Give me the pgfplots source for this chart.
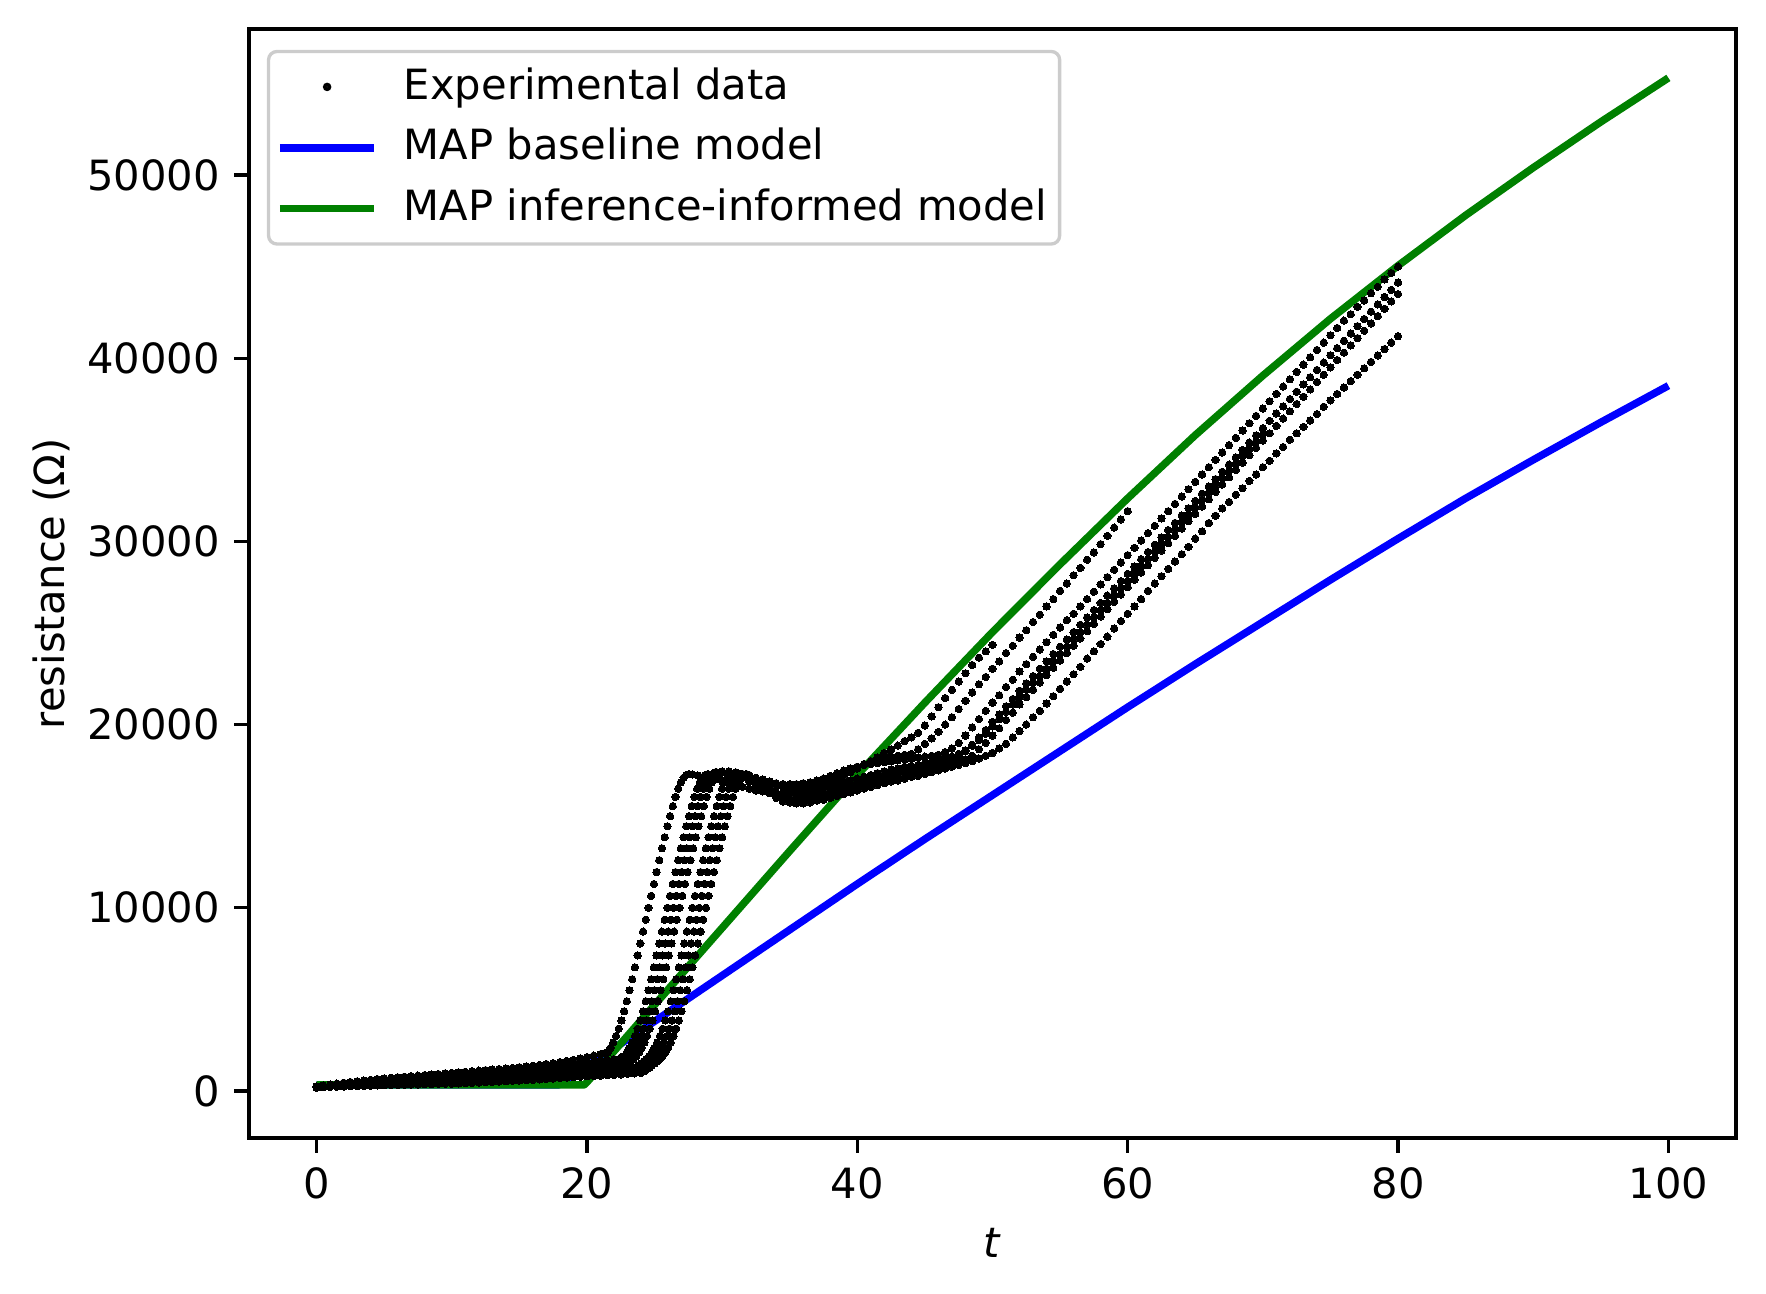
\documentclass[border=0pt]{standalone}
\usepackage{fontspec}
\setmainfont{DejaVu Sans}
\usepackage{pgfplots}
\pgfplotsset{compat=1.18}
\definecolor{mplblue}{rgb}{0,0,1}
\definecolor{mplgreen}{rgb}{0,0.5,0}
\pgfplotsset{expdata/.style={only marks, mark=*, mark size=0.88pt, black, mark options={line width=0pt}, forget plot}}
\begin{document}
\fontsize{10}{12}\selectfont
\begin{tikzpicture}
\begin{axis}[
  scale only axis, width=356.88pt, height=266.16pt,
  xmin=-5, xmax=105, ymin=-2566, ymax=57970,
  xtick={0,20,40,60,80,100}, ytick={0,10000,20000,30000,40000,50000},
  scaled y ticks=false,
  /pgf/number format/assume math mode=true,
  /pgf/number format/1000 sep={},
  tick align=outside, tick pos=left, major tick length=3.5pt,
  every tick/.style={black, line width=0.8pt},
  axis line style={line width=0.8pt},
  tick label style={font=\fontsize{10}{12}\selectfont},
  xlabel={\textit{t}}, ylabel={resistance (Ω)},
  every axis x label/.style={at={(axis description cs:0.5,0)}, anchor=base, yshift=-28.8pt, font=\fontsize{10}{12}\selectfont},
  every axis y label/.style={at={(axis description cs:-0.1331,0.5)}, rotate=90, anchor=center, font=\fontsize{10}{12}\selectfont},
  legend cell align=left,
  legend style={at={(0,1)}, anchor=north west, xshift=4.3pt, yshift=-5pt, draw=black!20, line width=0.8pt, rounded corners=2pt, fill=white, fill opacity=0.8, text opacity=1, font=\fontsize{10}{12}\selectfont, inner xsep=1.8pt, inner ysep=3.3pt, row sep=4.2pt, column sep=6.2pt, nodes={inner sep=0pt, text height=8.1pt, text depth=2.3pt}},
  legend image code/.code={\draw[#1, line width=1.8pt] (0pt,0pt) -- (22.7pt,0pt);},
]
\addlegendimage{black, legend image code/.code={\fill[black] (11.35pt,0pt) circle (0.6pt);}}
\addlegendentry{Experimental data}
% curve A
\addplot[expdata] coordinates {(0,250)(0.5,300)(1,350)(1.5,400)(2,450)(2.5,490)(3,530)(3.5,570)(4,610)(4.5,650)(5,690)(5.5,720)(6,750)(6.5,780)(7,810)(7.5,840)(8,870)(8.5,900)(9,930)(9.5,960)(10,990)(10.5,1020)(11,1050)(11.5,1080)(12,1110)(12.5,1140)(13,1170)(13.5,1200)(14,1230)(14.5,1260)(15,1300)(15.5,1340)(16,1380)(16.5,1420)(17,1470)(17.5,1520)(18,1580)(18.5,1640)(19,1700)(19.5,1770)(20,1850)(20.5,1930)(21,2010)(21.3,2060)(21.55,2100)(21.75,2350)(21.95,2650)(22.15,3000)(22.35,3400)(22.55,3850)(22.75,4350)(22.95,4900)(23.15,5500)(23.35,6100)(23.55,6750)(23.75,7400)(23.95,8050)(24.15,8700)(24.35,9350)(24.55,10000)(24.75,10650)(24.95,11300)(25.15,11950)(25.35,12600)(25.55,13250)(25.75,13850)(25.95,14450)(26.15,15000)(26.35,15550)(26.55,16050)(26.75,16500)(26.95,16850)(27.15,17100)(27.35,17250)(27.55,17300)(27.8,17280)(28.2,17220)(28.6,17150)(29,17100)(29.5,17000)(30,16900)(30.5,16800)(31,16700)(31.5,16600)(32,16500)(32.5,16400)(33,16350)(33.5,16300)(34,16300)(34.5,16300)(35,16350)(35.5,16400)(36,16450)(36.5,16550)(37,16650)(37.5,16750)(38,16900)(38.5,17050)(39,17200)(39.5,17400)(40,17600)(40.5,17800)(41,18000)(41.5,18200)(42,18450)(42.5,18650)(43,18850)(43.5,19100)(44,19300)(44.5,19550)(45,19950)(45.5,20450)(46,20950)(46.5,21450)(47,21900)(47.5,22350)(48,22800)(48.5,23250)(49,23650)(49.5,24000)(50,24350)};
% curve B
\addplot[expdata] coordinates {(0,230)(0.5,270)(1,310)(1.5,350)(2,390)(2.5,420)(3,450)(3.5,480)(4,510)(4.5,540)(5,570)(5.5,600)(6,630)(6.5,660)(7,690)(7.5,720)(8,750)(8.5,780)(9,800)(9.5,830)(10,860)(10.5,880)(11,910)(11.5,940)(12,960)(12.5,990)(13,1020)(13.5,1050)(14,1080)(14.5,1110)(15,1140)(15.5,1170)(16,1210)(16.5,1250)(17,1290)(17.5,1330)(18,1370)(18.5,1410)(19,1450)(19.5,1500)(20,1550)(20.5,1590)(21,1630)(21.5,1680)(22,1730)(22.5,1820)(22.75,1900)(22.95,2100)(23.15,2350)(23.35,2650)(23.55,3000)(23.75,3400)(23.95,3850)(24.15,4350)(24.35,4900)(24.55,5500)(24.75,6100)(24.95,6750)(25.15,7400)(25.35,8050)(25.55,8700)(25.75,9350)(25.95,10000)(26.15,10650)(26.35,11300)(26.55,11950)(26.75,12600)(26.95,13250)(27.15,13850)(27.35,14450)(27.55,15000)(27.75,15550)(27.95,16050)(28.15,16500)(28.35,16850)(28.55,17100)(28.75,17250)(28.95,17300)(29.5,17400)(30,17400)(30.5,17350)(31,17250)(31.5,17150)(32,17000)(32.5,16900)(33,16800)(33.5,16700)(34,16650)(34.5,16600)(35,16600)(35.5,16650)(36,16700)(36.5,16750)(37,16850)(37.5,16950)(38,17100)(38.5,17250)(39,17400)(39.5,17550)(40,17700)(40.5,17850)(41,18000)(41.5,18100)(42,18200)(42.5,18250)(43,18300)(43.5,18350)(44,18400)(44.5,18650)(45,18950)(45.5,19250)(46,19600)(46.5,20000)(47,20400)(47.5,20850)(48,21300)(48.5,21750)(49,22200)(49.5,22600)(50,23050)(50.5,23450)(51,23900)(51.5,24300)(52,24750)(52.5,25150)(53,25600)(53.5,26000)(54,26450)(54.5,26850)(55,27300)(55.5,27700)(56,28150)(56.5,28550)(57,29000)(57.5,29400)(58,29850)(58.5,30300)(59,30750)(59.5,31200)(60,31650)};
% curve D
\addplot[expdata] coordinates {(0,220)(0.5,260)(1,300)(1.5,330)(2,360)(2.5,390)(3,420)(3.5,450)(4,480)(4.5,510)(5,540)(5.5,560)(6,590)(6.5,620)(7,640)(7.5,670)(8,700)(8.5,720)(9,750)(9.5,770)(10,800)(10.5,820)(11,850)(11.5,870)(12,900)(12.5,920)(13,950)(13.5,970)(14,1000)(14.5,1020)(15,1050)(15.5,1080)(16,1110)(16.5,1140)(17,1170)(17.5,1200)(18,1230)(18.5,1260)(19,1290)(19.5,1320)(20,1350)(20.5,1390)(21,1430)(21.5,1480)(22,1530)(22.5,1600)(23,1750)(23.2,1900)(23.4,2100)(23.6,2350)(23.8,2650)(24,3000)(24.2,3400)(24.4,3850)(24.6,4350)(24.8,4900)(25,5500)(25.2,6100)(25.4,6750)(25.6,7400)(25.8,8050)(26,8700)(26.2,9350)(26.4,10000)(26.6,10650)(26.8,11300)(27,11950)(27.2,12600)(27.4,13250)(27.6,13850)(27.8,14450)(28,15000)(28.2,15550)(28.4,16050)(28.6,16500)(28.8,16850)(29,17100)(29.2,17250)(29.4,17350)(29.6,17400)(30,17450)(30.5,17450)(31,17400)(31.5,17300)(32,17200)(32.5,17100)(33,17000)(33.5,16900)(34,16800)(34.5,16750)(35,16750)(35.5,16750)(36,16800)(36.5,16850)(37,16950)(37.5,17050)(38,17200)(38.5,17350)(39,17500)(39.5,17600)(40,17700)(40.5,17800)(41,17850)(41.5,17900)(42,17950)(42.5,18000)(43,18050)(43.5,18100)(44,18150)(44.5,18200)(45,18250)(45.5,18300)(46,18350)(46.5,18500)(47,18700)(47.5,19000)(48,19400)(48.5,19850)(49,20300)(49.5,20750)(50,21200)(50.5,21600)(51,22050)(51.5,22450)(52,22900)(52.5,23300)(53,23700)(53.5,24100)(54,24500)(54.5,24900)(55,25300)(55.5,25700)(56,26050)(56.5,26450)(57,26850)(57.5,27250)(58,27650)(58.5,28050)(59,28450)(59.5,28850)(60,29250)(60.5,29650)(61,30050)(61.5,30450)(62,30850)(62.5,31250)(63,31650)(63.5,32050)(64,32450)(64.5,32850)(65,33250)(65.5,33650)(66,34050)(66.5,34450)(67,34850)(67.5,35250)(68,35650)(68.5,36050)(69,36450)(69.5,36850)(70,37250)(70.5,37650)(71,38050)(71.5,38450)(72,38850)(72.5,39250)(73,39650)(73.5,40050)(74,40450)(74.5,40850)(75,41250)(75.5,41650)(76,42050)(76.5,42400)(77,42800)(77.5,43150)(78,43550)(78.5,43900)(79,44300)(79.5,44650)(80,45000)};
% curve C
\addplot[expdata] coordinates {(0,210)(0.5,240)(1,270)(1.5,300)(2,330)(2.5,355)(3,380)(3.5,400)(4,420)(4.5,440)(5,460)(5.5,480)(6,500)(6.5,520)(7,540)(7.5,560)(8,580)(8.5,600)(9,620)(9.5,640)(10,660)(10.5,685)(11,710)(11.5,735)(12,760)(12.5,785)(13,810)(13.5,835)(14,860)(14.5,885)(15,910)(15.5,940)(16,970)(16.5,1000)(17,1030)(17.5,1060)(18,1090)(18.5,1120)(19,1150)(19.5,1170)(20,1200)(20.5,1230)(21,1260)(21.5,1300)(22,1340)(22.5,1390)(23.05,1500)(23.25,1620)(23.45,1750)(23.65,1900)(23.85,2100)(24.05,2350)(24.25,2650)(24.45,3000)(24.65,3400)(24.85,3850)(25.05,4350)(25.25,4900)(25.45,5500)(25.65,6100)(25.85,6750)(26.05,7400)(26.25,8050)(26.45,8700)(26.65,9350)(26.85,10000)(27.05,10650)(27.25,11300)(27.45,11950)(27.65,12600)(27.85,13250)(28.05,13850)(28.25,14450)(28.45,15000)(28.65,15550)(28.85,16050)(29.05,16500)(29.25,16850)(29.45,17100)(29.65,17250)(29.85,17300)(30.5,17300)(31,17250)(31.5,17100)(32,16900)(32.5,16700)(33,16500)(33.5,16350)(34,16250)(34.5,16200)(35,16150)(35.5,16150)(36,16200)(36.5,16250)(37,16350)(37.5,16450)(38,16550)(38.5,16700)(39,16850)(39.5,16950)(40,17050)(40.5,17150)(41,17250)(41.5,17350)(42,17450)(42.5,17550)(43,17600)(43.5,17700)(44,17750)(44.5,17800)(45,17900)(45.5,17950)(46,18050)(46.5,18150)(47,18250)(47.5,18400)(48,18600)(48.5,18850)(49,19150)(49.5,19500)(50,19900)(50.5,20300)(51,20700)(51.5,21100)(52,21500)(52.5,21900)(53,22300)(53.5,22650)(54,23050)(54.5,23450)(55,23850)(55.5,24250)(56,24650)(56.5,25050)(57,25450)(57.5,25850)(58,26250)(58.5,26650)(59,27050)(59.5,27450)(60,27850)(60.5,28250)(61,28650)(61.5,29050)(62,29450)(62.5,29850)(63,30250)(63.5,30650)(64,31050)(64.5,31450)(65,31850)(65.5,32250)(66,32650)(66.5,33050)(67,33450)(67.5,33850)(68,34250)(68.5,34650)(69,35050)(69.5,35450)(70,35850)};
% curve E
\addplot[expdata] coordinates {(0,200)(0.5,230)(1,260)(1.5,285)(2,310)(2.5,330)(3,350)(3.5,370)(4,390)(4.5,405)(5,420)(5.5,435)(6,450)(6.5,465)(7,480)(7.5,495)(8,510)(8.5,525)(9,540)(9.5,555)(10,570)(10.5,590)(11,610)(11.5,630)(12,650)(12.5,670)(13,690)(13.5,710)(14,730)(14.5,750)(15,770)(15.5,795)(16,820)(16.5,845)(17,870)(17.5,895)(18,920)(18.5,950)(19,980)(19.5,1010)(20,1050)(20.5,1080)(21,1110)(21.5,1140)(22,1170)(22.5,1200)(23,1230)(23.4,1290)(23.8,1400)(24,1500)(24.2,1620)(24.4,1750)(24.6,1900)(24.8,2100)(25,2350)(25.2,2650)(25.4,3000)(25.6,3400)(25.8,3850)(26,4350)(26.2,4900)(26.4,5500)(26.6,6100)(26.8,6750)(27,7400)(27.2,8050)(27.4,8700)(27.6,9350)(27.8,10000)(28,10650)(28.2,11300)(28.4,11950)(28.6,12600)(28.8,13250)(29,13850)(29.2,14450)(29.4,15000)(29.6,15550)(29.8,16050)(30,16500)(30.2,16850)(30.4,17100)(30.6,17250)(30.8,17300)(31,17300)(31.5,17200)(32,17000)(32.5,16750)(33,16500)(33.5,16250)(34,16050)(34.5,15950)(35,15900)(35.5,15900)(36,15950)(36.5,16000)(37,16100)(37.5,16200)(38,16300)(38.5,16450)(39,16600)(39.5,16700)(40,16800)(40.5,16900)(41,17000)(41.5,17100)(42,17150)(42.5,17250)(43,17350)(43.5,17400)(44,17500)(44.5,17550)(45,17650)(45.5,17750)(46,17850)(46.5,17950)(47,18100)(47.5,18300)(48,18550)(48.5,18900)(49,19300)(49.5,19700)(50,20150)(50.5,20550)(51,21000)(51.5,21400)(52,21850)(52.5,22250)(53,22650)(53.5,23050)(54,23450)(54.5,23850)(55,24250)(55.5,24650)(56,25050)(56.5,25450)(57,25850)(57.5,26250)(58,26640)(58.5,27040)(59,27440)(59.5,27830)(60,28230)(60.5,28630)(61,29030)(61.5,29420)(62,29820)(62.5,30220)(63,30620)(63.5,31010)(64,31410)(64.5,31810)(65,32210)(65.5,32600)(66,33000)(66.5,33400)(67,33800)(67.5,34190)(68,34590)(68.5,34990)(69,35390)(69.5,35780)(70,36180)(70.5,36580)(71,36980)(71.5,37370)(72,37770)(72.5,38170)(73,38570)(73.5,38960)(74,39360)(74.5,39760)(75,40160)(75.5,40550)(76,40950)(76.5,41350)(77,41750)(77.5,42140)(78,42540)(78.5,42940)(79,43340)(79.5,43730)(80,44130)};
% curve F
\addplot[expdata] coordinates {(0,190)(0.5,215)(1,240)(1.5,260)(2,280)(2.5,295)(3,310)(3.5,325)(4,340)(4.5,355)(5,370)(5.5,385)(6,400)(6.5,415)(7,425)(7.5,440)(8,450)(8.5,460)(9,470)(9.5,480)(10,490)(10.5,505)(11,520)(11.5,535)(12,550)(12.5,565)(13,580)(13.5,600)(14,620)(14.5,640)(15,660)(15.5,680)(16,700)(16.5,720)(17,745)(17.5,770)(18,795)(18.5,820)(19,845)(19.5,870)(20,900)(20.5,920)(21,940)(21.5,960)(22,990)(22.5,1020)(23,1050)(23.5,1090)(23.7,1200)(24.1,1330)(24.3,1400)(24.5,1500)(24.7,1620)(24.9,1750)(25.1,1900)(25.3,2100)(25.5,2350)(25.7,2650)(25.9,3000)(26.1,3400)(26.3,3850)(26.5,4350)(26.7,4900)(26.9,5500)(27.1,6100)(27.3,6750)(27.5,7400)(27.7,8050)(27.9,8700)(28.1,9350)(28.3,10000)(28.5,10650)(28.7,11300)(28.9,11950)(29.1,12600)(29.3,13250)(29.5,13850)(29.7,14450)(29.9,15000)(30.1,15550)(30.3,16050)(30.5,16500)(30.7,16850)(30.9,17100)(31.1,17250)(31.3,17300)(31.5,17300)(32,17150)(32.5,16900)(33,16650)(33.5,16350)(34,16100)(34.5,15950)(35,15850)(35.5,15800)(36,15800)(36.5,15850)(37,15950)(37.5,16050)(38,16150)(38.5,16250)(39,16400)(39.5,16500)(40,16600)(40.5,16700)(41,16800)(41.5,16900)(42,17000)(42.5,17100)(43,17150)(43.5,17250)(44,17300)(44.5,17400)(45,17450)(45.5,17550)(46,17650)(46.5,17750)(47,17850)(47.5,17950)(48,18100)(48.5,18300)(49,18650)(49.5,19000)(50,19400)(50.5,19800)(51,20250)(51.5,20650)(52,21100)(52.5,21500)(53,21900)(53.5,22300)(54,22700)(54.5,23100)(55,23500)(55.5,23900)(56,24300)(56.5,24700)(57,25100)(57.5,25500)(58,25900)(58.5,26300)(59,26700)(59.5,27100)(60,27500)(60.5,27900)(61,28300)(61.5,28700)(62,29100)(62.5,29500)(63,29900)(63.5,30300)(64,30700)(64.5,31100)(65,31500)(65.5,31900)(66,32300)(66.5,32700)(67,33100)(67.5,33500)(68,33900)(68.5,34300)(69,34700)(69.5,35100)(70,35500)(70.5,35900)(71,36300)(71.5,36700)(72,37100)(72.5,37500)(73,37900)(73.5,38300)(74,38700)(74.5,39100)(75,39500)(75.5,39900)(76,40300)(76.5,40700)(77,41100)(77.5,41500)(78,41900)(78.5,42300)(79,42700)(79.5,43100)(80,43500)};
% curve G
\addplot[expdata] coordinates {(0,180)(0.5,200)(1,215)(1.5,230)(2,245)(2.5,255)(3,265)(3.5,275)(4,290)(4.5,300)(5,310)(5.5,320)(6,330)(6.5,340)(7,350)(7.5,360)(8,370)(8.5,380)(9,390)(9.5,395)(10,400)(10.5,415)(11,430)(11.5,445)(12,460)(12.5,475)(13,490)(13.5,510)(14,530)(14.5,550)(15,570)(15.5,590)(16,610)(16.5,630)(17,655)(17.5,680)(18,705)(18.5,730)(19,755)(19.5,775)(20,800)(20.5,820)(21,840)(21.5,860)(22,880)(22.5,900)(23,930)(23.5,960)(24,990)(24.3,1100)(24.6,1250)(24.8,1380)(25,1500)(25.2,1620)(25.4,1750)(25.6,1900)(25.8,2100)(26,2350)(26.2,2650)(26.4,3000)(26.6,3400)(26.8,3850)(27,4350)(27.2,4900)(27.4,5500)(27.6,6100)(27.8,6750)(28,7400)(28.2,8050)(28.4,8700)(28.6,9350)(28.8,10000)(29,10650)(29.2,11300)(29.4,11950)(29.6,12600)(29.8,13250)(30,13850)(30.2,14450)(30.4,15000)(30.6,15550)(30.8,16050)(31,16500)(31.2,16850)(31.4,17100)(31.6,17250)(31.8,17300)(32,17250)(32.5,17050)(33,16750)(33.5,16400)(34,16000)(34.5,15800)(35,15750)(35.5,15700)(36,15700)(36.5,15750)(37,15850)(37.5,15900)(38,16000)(38.5,16100)(39,16200)(39.5,16300)(40,16400)(40.5,16500)(41,16600)(41.5,16700)(42,16800)(42.5,16900)(43,16950)(43.5,17050)(44,17150)(44.5,17200)(45,17300)(45.5,17400)(46,17500)(46.5,17600)(47,17700)(47.5,17800)(48,17900)(48.5,18000)(49,18150)(49.5,18300)(50,18450)(50.5,18700)(51,18950)(51.5,19300)(52,19650)(52.5,20000)(53,20400)(53.5,20750)(54,21150)(54.5,21550)(55,21950)(55.5,22350)(56,22750)(56.5,23150)(57,23600)(57.5,24000)(58,24400)(58.5,24800)(59,25250)(59.5,25650)(60,26050)(60.5,26450)(61,26850)(61.5,27300)(62,27700)(62.5,28100)(63,28500)(63.5,28900)(64,29300)(64.5,29700)(65,30150)(65.5,30550)(66,31000)(66.5,31400)(67,31800)(67.5,32150)(68,32550)(68.5,32900)(69,33300)(69.5,33650)(70,34050)(70.5,34400)(71,34800)(71.5,35150)(72,35550)(72.5,35900)(73,36250)(73.5,36600)(74,36950)(74.5,37350)(75,37700)(75.5,38050)(76,38400)(76.5,38750)(77,39100)(77.5,39450)(78,39800)(78.5,40150)(79,40500)(79.5,40850)(80,41200)};
% MAP baseline model
\addplot[mplblue, line width=1.8pt, line join=round] coordinates {(0,330)(17.9,330)(20,1350)(25,3800)(30,6300)(35,8800)(40,11300)(45,13750)(50,16150)(55,18550)(60,20950)(65,23300)(70,25600)(75,27900)(80,30150)(85,32350)(90,34450)(95,36500)(100,38500)};
\addlegendentry{MAP baseline model}
% MAP inference-informed model
\addplot[mplgreen, line width=1.8pt, line join=round] coordinates {(0,330)(19.8,330)(20,480)(25,4700)(30,8900)(35,13100)(40,17250)(45,21200)(50,25050)(55,28750)(60,32350)(65,35800)(70,39050)(75,42150)(80,45050)(85,47800)(90,50400)(95,52900)(100,55300)};
\addlegendentry{MAP inference-informed model\rule{1.2pt}{0pt}}
\end{axis}
\pgfresetboundingbox
\path[use as bounding box] (-59.76pt,-37.44pt) rectangle (364.08pt,273.12pt);
\end{tikzpicture}
\end{document}
